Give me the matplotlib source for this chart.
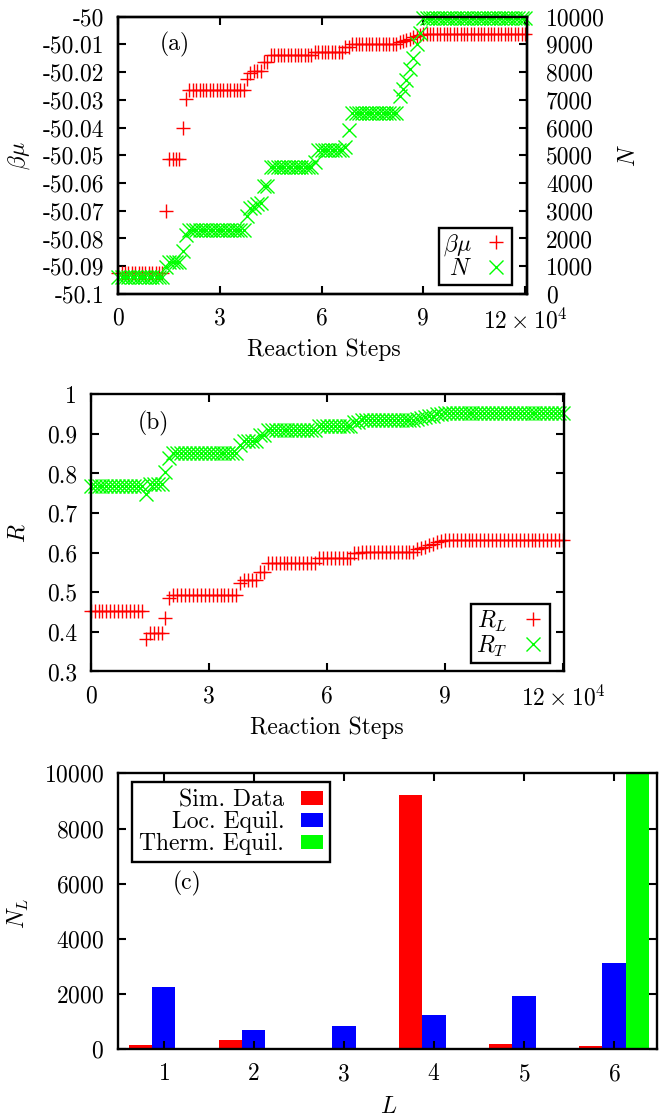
import numpy as np
import matplotlib.pyplot as plt

plt.rcParams['font.family'] = 'cmr10'
plt.rcParams['mathtext.fontset'] = 'cm'
plt.rcParams['axes.unicode_minus'] = False
plt.rcParams['axes.formatter.use_mathtext'] = True
plt.rcParams['font.size'] = 17
plt.rcParams['axes.linewidth'] = 1.7

# reaction steps, one sample every 1000 steps
steps = np.arange(0, 121000, 1000)

# panel (a): beta*mu (left axis) and N (right axis)
beta_mu = [
    -50.0923, -50.0923, -50.0923, -50.0923, -50.0923, -50.0923, -50.0923,
    -50.0923, -50.0923, -50.0923, -50.0923, -50.0923, -50.0923, -50.0923,
    -50.0700, -50.0515, -50.0515, -50.0515, -50.0515, -50.0400, -50.0298,
    -50.0265, -50.0265, -50.0265, -50.0265, -50.0265, -50.0265, -50.0265,
    -50.0265, -50.0265, -50.0265, -50.0265, -50.0265, -50.0265, -50.0265,
    -50.0265, -50.0265, -50.0265, -50.0224, -50.0205, -50.0195, -50.0195,
    -50.0195, -50.0162, -50.0162, -50.0139, -50.0139, -50.0139, -50.0139,
    -50.0139, -50.0139, -50.0139, -50.0139, -50.0139, -50.0139, -50.0139,
    -50.0139, -50.0139, -50.0126, -50.0126, -50.0126, -50.0126, -50.0126,
    -50.0126, -50.0126, -50.0126, -50.0126, -50.0110, -50.0110, -50.0097,
    -50.0097, -50.0097, -50.0097, -50.0097, -50.0097, -50.0097, -50.0097,
    -50.0097, -50.0097, -50.0097, -50.0097, -50.0097, -50.0097, -50.0092,
    -50.0088, -50.0083, -50.0079, -50.0075, -50.0070, -50.0066, -50.0064,
    -50.0064, -50.0064, -50.0064, -50.0064, -50.0064, -50.0064, -50.0064,
    -50.0064, -50.0064, -50.0064, -50.0064, -50.0064, -50.0064, -50.0064,
    -50.0064, -50.0064, -50.0064, -50.0064, -50.0064, -50.0064, -50.0064,
    -50.0064, -50.0064, -50.0064, -50.0064, -50.0064, -50.0064, -50.0064,
    -50.0064, -50.0064,
]
n_total = [
    600, 600, 600, 600, 600, 600, 600, 600, 600, 600, 600, 600, 600, 600,
    980, 1160, 1160, 1160, 1160, 1550, 2130,
    2320, 2320, 2320, 2320, 2320, 2320, 2320, 2320, 2320, 2320, 2320, 2320,
    2320, 2320, 2320, 2320, 2320,
    2800, 3100, 3150, 3250, 3280, 3890, 3890,
    4580, 4580, 4580, 4580, 4580, 4580, 4580, 4580, 4580, 4580, 4580, 4580,
    4580, 4750,
    5180, 5180, 5180, 5180, 5180, 5180, 5180, 5180, 5300, 5900,
    6510, 6510, 6510, 6510, 6510, 6510, 6510, 6510, 6510, 6510, 6510, 6510,
    6510, 6510,
    7150, 7400, 7700, 8100, 8500, 9000, 9400,
    9960, 9960, 9960, 9960, 9960, 9960, 9960, 9960, 9960, 9960, 9960, 9960,
    9960, 9960, 9960, 9960, 9960, 9960, 9960, 9960, 9960, 9960, 9960, 9960,
    9960, 9960, 9960, 9960, 9960, 9960, 9960,
]

# panel (b): R_L and R_T
r_l = [
    0.452, 0.452, 0.452, 0.452, 0.452, 0.452, 0.452, 0.452, 0.452, 0.452,
    0.452, 0.452, 0.452, 0.452,
    0.382, 0.398, 0.398, 0.398, 0.398, 0.435, 0.486,
    0.494, 0.494, 0.494, 0.494, 0.494, 0.494, 0.494, 0.494, 0.494, 0.494,
    0.494, 0.494, 0.494, 0.494, 0.494, 0.494, 0.494,
    0.523, 0.530, 0.530, 0.530, 0.530, 0.552, 0.552,
    0.573, 0.573, 0.573, 0.573, 0.573, 0.573, 0.573, 0.573, 0.573, 0.573,
    0.573, 0.573, 0.573,
    0.586, 0.586, 0.586, 0.586, 0.586, 0.586, 0.586, 0.586, 0.586,
    0.600, 0.600,
    0.603, 0.603, 0.603, 0.603, 0.603, 0.603, 0.603, 0.603, 0.603, 0.603,
    0.603, 0.603, 0.603, 0.603,
    0.609, 0.612, 0.615, 0.619, 0.623, 0.626, 0.629,
    0.631, 0.631, 0.631, 0.631, 0.631, 0.631, 0.631, 0.631, 0.631, 0.631,
    0.631, 0.631, 0.631, 0.631, 0.631, 0.631, 0.631, 0.631, 0.631, 0.631,
    0.631, 0.631, 0.631, 0.631, 0.631, 0.631, 0.631, 0.631, 0.631, 0.631,
    0.631,
]
r_t = [
    0.768, 0.768, 0.768, 0.768, 0.768, 0.768, 0.768, 0.768, 0.768, 0.768,
    0.768, 0.768, 0.768, 0.768,
    0.748, 0.773, 0.773, 0.773, 0.773, 0.805, 0.838,
    0.851, 0.851, 0.851, 0.851, 0.851, 0.851, 0.851, 0.851, 0.851, 0.851,
    0.851, 0.851, 0.851, 0.851, 0.851, 0.851, 0.851,
    0.872, 0.882, 0.882, 0.882, 0.882, 0.897, 0.897,
    0.911, 0.911, 0.911, 0.911, 0.911, 0.911, 0.911, 0.911, 0.911, 0.911,
    0.911, 0.911, 0.911,
    0.920, 0.920, 0.920, 0.920, 0.920, 0.920, 0.920, 0.920, 0.920,
    0.931, 0.931,
    0.935, 0.935, 0.935, 0.935, 0.935, 0.935, 0.935, 0.935, 0.935, 0.935,
    0.935, 0.935, 0.935, 0.935,
    0.938, 0.940, 0.942, 0.944, 0.946, 0.949, 0.951,
    0.952, 0.952, 0.952, 0.952, 0.952, 0.952, 0.952, 0.952, 0.952, 0.952,
    0.952, 0.952, 0.952, 0.952, 0.952, 0.952, 0.952, 0.952, 0.952, 0.952,
    0.952, 0.952, 0.952, 0.952, 0.952, 0.952, 0.952, 0.952, 0.952, 0.952,
    0.952,
]

# panel (c): N_L per level L
levels = [1, 2, 3, 4, 5, 6]
sim_data = [160, 330, 40, 9200, 170, 120]
loc_equil = [2240, 690, 830, 1220, 1910, 3130]
therm_equil = [0, 0, 0, 0, 0, 10000]

step_ticks = [0, 30000, 60000, 90000, 120000]
step_labels = ['0', '3', '6', '9', r'$12\times10^4$']
bmu_ticks = [-50.1, -50.09, -50.08, -50.07, -50.06, -50.05, -50.04,
             -50.03, -50.02, -50.01, -50.0]
bmu_labels = ['-50.1', '-50.09', '-50.08', '-50.07', '-50.06', '-50.05',
              '-50.04', '-50.03', '-50.02', '-50.01', '-50']
n_ticks = [0, 1000, 2000, 3000, 4000, 5000, 6000, 7000, 8000, 9000, 10000]
r_ticks = [0.3, 0.4, 0.5, 0.6, 0.7, 0.8, 0.9, 1.0]
r_labels = ['0.3', '0.4', '0.5', '0.6', '0.7', '0.8', '0.9', '1']
nl_ticks = [0, 2000, 4000, 6000, 8000, 10000]

RED = '#ff0000'
GREEN = '#00ff00'
BLUE = '#0000ff'
MS = 10.5
MEW = 1.0


def style_legend(leg):
    fr = leg.get_frame()
    fr.set_linewidth(1.7)
    fr.set_edgecolor('black')
    fr.set_alpha(1)


fig = plt.figure(figsize=(6.59, 11.16), dpi=100)

# ---------------- (a)
ax1 = fig.add_axes([0.1795, 0.7366, 0.6197, 0.2485])
ax1r = ax1.twinx()
l1, = ax1.plot(steps, beta_mu, '+', color=RED, ms=MS, mew=MEW, clip_on=False,
               label=r'$\beta\mu$')
l2, = ax1r.plot(steps, n_total, 'x', color=GREEN, ms=MS, mew=MEW, clip_on=False,
                label=r'$N$')
ax1.set_xlim(0, 120500)
ax1.set_ylim(-50.1, -50.0)
ax1r.set_ylim(0, 10000)
ax1.set_xticks(step_ticks)
ax1.set_xticklabels(step_labels)
ax1.set_yticks(bmu_ticks)
ax1.set_yticklabels(bmu_labels)
ax1r.set_yticks(n_ticks)
ax1r.set_yticklabels([str(v) for v in n_ticks])
ax1.tick_params(direction='in', length=5.5, width=1.5, top=True, right=False, pad=10)
ax1r.tick_params(direction='in', length=5.5, width=1.5, pad=14)
ax1.text(-0.2417, 0.5, r'$\beta\mu$', transform=ax1.transAxes, rotation=90,
         ha='center', va='center')
ax1.text(1.25, 0.5, r'$N$', transform=ax1.transAxes, rotation=90,
         ha='center', va='center')
ax1.text(0.503, -0.202, 'Reaction Steps', transform=ax1.transAxes,
         ha='center', va='center')
ax1.text(0.139, 0.898, '(a)', transform=ax1.transAxes, ha='center', va='center')
leg = ax1r.legend([l1, l2], [r'$\beta\mu$', r'$N$'], loc='lower right',
                  bbox_to_anchor=(0.965, 0.0325), borderaxespad=0,
                  markerfirst=False, fancybox=False, numpoints=1,
                  handlelength=1.0, handletextpad=0.5, borderpad=0.2,
                  labelspacing=0.0)
style_legend(leg)

# ---------------- (b)
ax2 = fig.add_axes([0.1376, 0.3983, 0.7179, 0.2484])
ax2.plot(steps, r_l, '+', color=RED, ms=MS, mew=MEW, clip_on=False, label=r'$R_L$')
ax2.plot(steps, r_t, 'x', color=GREEN, ms=MS, mew=MEW, clip_on=False, label=r'$R_T$')
ax2.set_xlim(0, 120200)
ax2.set_ylim(0.3, 1.0)
ax2.set_xticks(step_ticks)
ax2.set_xticklabels(step_labels)
ax2.set_yticks(r_ticks)
ax2.set_yticklabels(r_labels)
ax2.tick_params(direction='in', length=5.5, width=1.5, top=True, right=True, pad=10)
ax2.text(-0.1537, 0.4996, r'$R$', transform=ax2.transAxes, rotation=90,
         ha='center', va='center')
ax2.text(0.5, -0.2038, 'Reaction Steps', transform=ax2.transAxes,
         ha='center', va='center')
ax2.text(0.1334, 0.895, '(b)', transform=ax2.transAxes, ha='center', va='center')
leg = ax2.legend(loc='lower right', bbox_to_anchor=(0.9706, 0.0296),
                 borderaxespad=0, markerfirst=False, fancybox=False, numpoints=1,
                 handlelength=1.0, handletextpad=0.6, borderpad=0.2,
                 labelspacing=0.0)
style_legend(leg)

# ---------------- (c)
ax3 = fig.add_axes([0.1786, 0.0600, 0.8188, 0.2470])
lv = np.array(levels)
ax3.bar(lv - 0.26, sim_data, width=0.26, color=RED, label='Sim. Data')
ax3.bar(lv, loc_equil, width=0.26, color=BLUE, label='Loc. Equil.')
ax3.bar(lv + 0.26, therm_equil, width=0.26, color=GREEN, label='Therm. Equil.')
ax3.set_xlim(0.49, 6.48)
ax3.set_ylim(0, 10000)
ax3.set_xticks(levels)
ax3.set_yticks(nl_ticks)
ax3.tick_params(direction='in', length=5.5, width=1.5, top=True, right=True, pad=10)
ax3.text(-0.183, 0.493, r'$N_L$', transform=ax3.transAxes, rotation=90,
         ha='center', va='center')
ax3.text(0.503, -0.209, r'$L$', transform=ax3.transAxes, ha='center', va='center')
ax3.text(0.1286, 0.601, '(c)', transform=ax3.transAxes, ha='center', va='center')
leg = ax3.legend(loc='upper left', bbox_to_anchor=(0.0272, 0.9695),
                 borderaxespad=0, markerfirst=False, fancybox=False,
                 handlelength=0.95, handleheight=0.55, handletextpad=0.7,
                 borderpad=0.3, labelspacing=0.0)
style_legend(leg)

fig.savefig('out.png', dpi=100)
plt.close(fig)
